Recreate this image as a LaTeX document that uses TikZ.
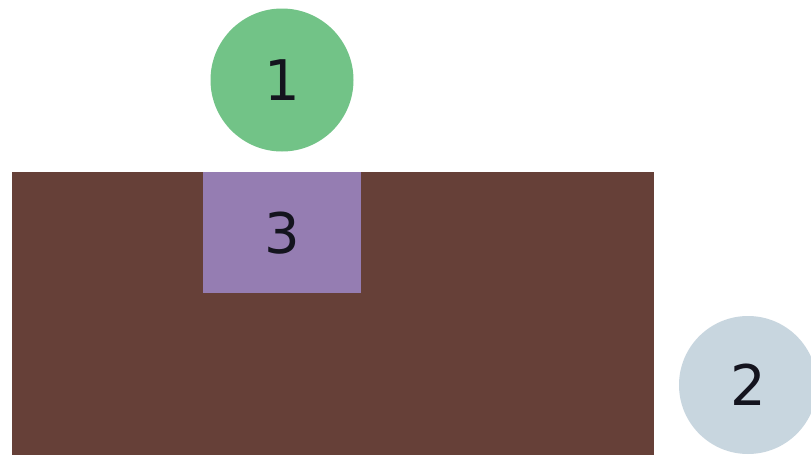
\documentclass[tikz,border=0pt]{standalone}
\usepackage{fontspec}
\setmainfont{DejaVu Sans}
\definecolor{brownbg}{RGB}{102,64,56}
\definecolor{purplebox}{RGB}{149,125,178}
\definecolor{greencirc}{RGB}{114,195,135}
\definecolor{bluecirc}{RGB}{200,214,223}
\definecolor{txt}{RGB}{20,20,30}
\begin{document}
\begin{tikzpicture}[x=1pt,y=-1pt,
  lbl/.style={font=\fontsize{56}{60}\selectfont, text=txt},
  disc/.style={circle, inner sep=0pt, lbl}]
\useasboundingbox (0,0) rectangle (811,455);
\fill[white] (0,0) rectangle (811,455);
\node[fill=brownbg, inner sep=0pt, minimum width=642pt, minimum height=290pt, anchor=north west] (base) at (12,172) {};
\node[fill=purplebox, inner sep=0pt, minimum width=158pt, minimum height=121pt, anchor=north west, lbl] (n3) at (203,172) {3};
\node[disc, fill=greencirc, minimum size=143pt] (n1) at (282,80) {1};
\node[disc, fill=bluecirc, minimum size=138pt] (n2) at (748,385) {2};
\end{tikzpicture}
\end{document}
